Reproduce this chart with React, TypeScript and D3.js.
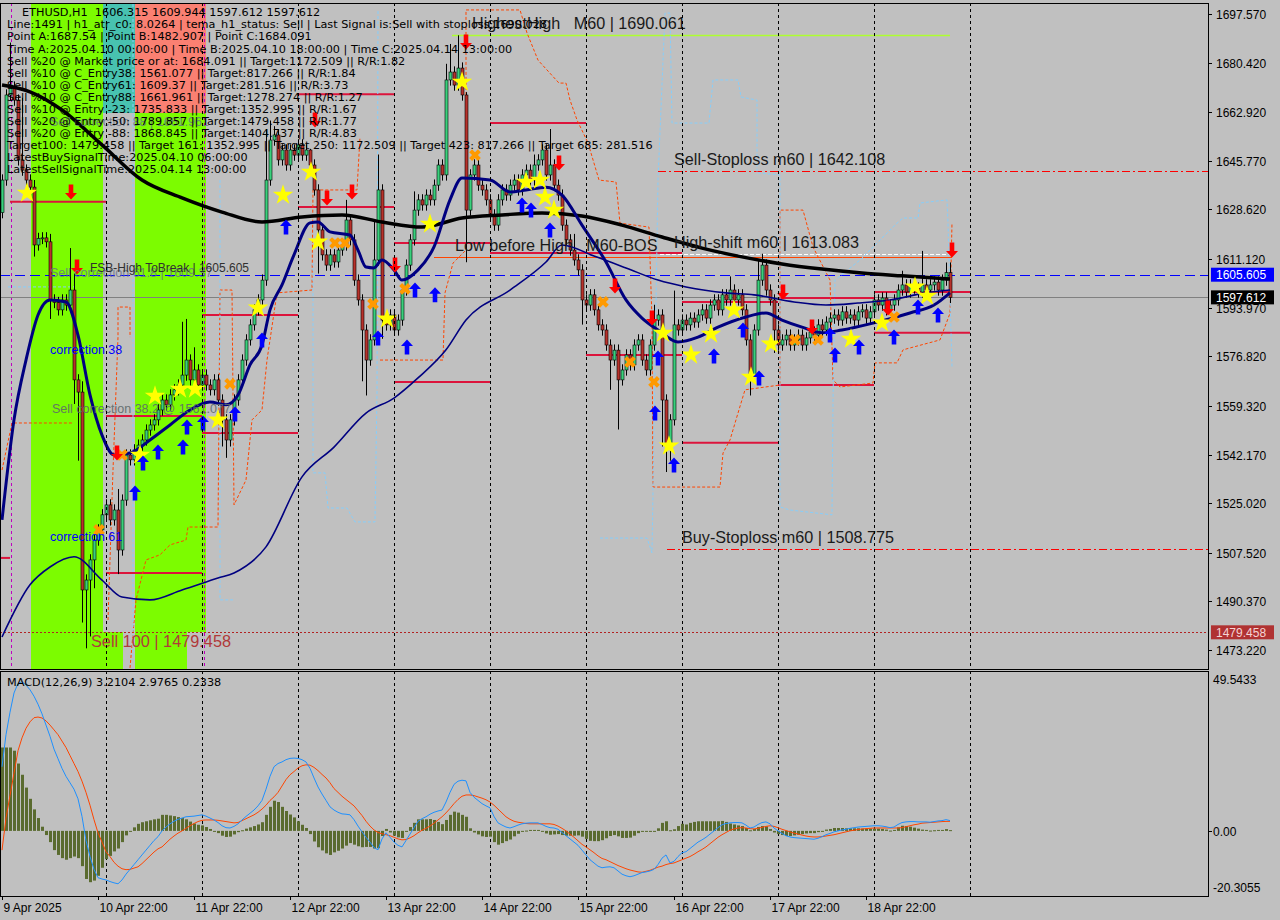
import * as d3 from 'd3';
import { useEffect, useRef } from 'react';

// ---------- values ----------
// bar 0 = 9 Apr 22:00, one bar per hour
const timeLabels = ['9 Apr 2025', '10 Apr 22:00', '11 Apr 22:00', '12 Apr 22:00', '13 Apr 22:00', '14 Apr 22:00', '15 Apr 22:00', '16 Apr 22:00', '17 Apr 22:00', '18 Apr 22:00'];
const timeLabelBars = [0, 24, 48, 72, 96, 120, 144, 168, 192, 216];
const dayBreakBars = [26, 50, 74, 98, 122, 146, 170, 194, 218, 242];

const priceTicks = [1697.57, 1680.42, 1662.92, 1645.77, 1628.62, 1611.12, 1593.97, 1576.82, 1559.32, 1542.17, 1525.02, 1507.52, 1490.37, 1473.22];
const macdTicks = [49.5433, 0, -20.3055];

const firstOpen = 1627.5;
const closes = [
  1639.0, 1669.0, 1671.8, 1667.2, 1646.1, 1642.5, 1639.0, 1636.5, 1616.1, 1618.4, 1618.6, 1617.2, 1596.7, 1595.8, 1593.2, 1596.7, 1594.9, 1600.2, 1568.5, 1564.2, 1494.4, 1497.9, 1505.0, 1512.0,
  1515.6, 1520.9, 1524.4, 1519.1, 1522.6, 1508.5, 1526.1, 1542.0, 1540.3, 1543.8, 1545.5, 1547.3, 1550.8, 1552.6, 1554.4, 1557.9, 1561.4, 1559.7, 1563.2, 1565.0, 1566.7, 1570.2, 1575.5, 1568.5,
  1572.0, 1566.7, 1570.2, 1566.7, 1565.0, 1568.5, 1561.4, 1554.4, 1547.3, 1554.4, 1561.4, 1568.5, 1575.5, 1582.6, 1587.9, 1593.2, 1596.7, 1603.7, 1639.0, 1653.1, 1654.9, 1646.1, 1649.6, 1644.3,
  1649.6, 1647.8, 1651.4, 1647.8, 1649.6, 1644.3, 1635.5, 1621.4, 1612.6, 1609.0, 1612.6, 1610.1, 1614.3, 1616.1, 1624.9, 1617.9, 1603.7, 1596.7, 1586.1, 1575.5, 1582.6, 1610.8, 1635.5, 1589.6,
  1587.9, 1591.4, 1586.1, 1589.6, 1600.2, 1609.0, 1617.9, 1628.4, 1632.0, 1630.2, 1633.7, 1632.0, 1637.2, 1644.3, 1640.8, 1674.3, 1677.1, 1672.5, 1678.5, 1669.0, 1628.4, 1640.8, 1644.3, 1637.2,
  1635.5, 1632.0, 1626.7, 1623.1, 1632.0, 1635.5, 1633.7, 1637.2, 1639.0, 1635.5, 1640.8, 1642.5, 1639.0, 1644.3, 1646.1, 1649.6, 1640.8, 1644.3, 1637.2, 1633.7, 1623.1, 1617.9, 1614.3, 1610.8,
  1607.3, 1596.7, 1594.9, 1598.5, 1593.2, 1587.9, 1586.1, 1580.8, 1575.5, 1579.0, 1568.5, 1572.0, 1577.3, 1573.8, 1580.8, 1582.6, 1575.5, 1572.0, 1580.8, 1589.6, 1591.4, 1561.4, 1545.5, 1554.4,
  1587.9, 1586.1, 1589.6, 1587.9, 1590.3, 1588.9, 1591.4, 1593.2, 1590.3, 1594.9, 1596.7, 1593.2, 1598.5, 1596.7, 1600.2, 1596.7, 1598.5, 1593.2, 1582.6, 1570.2, 1586.1, 1603.7, 1609.0, 1600.2,
  1596.7, 1586.1, 1580.8, 1582.6, 1584.3, 1580.8, 1582.6, 1584.3, 1580.8, 1583.3, 1585.4, 1584.3, 1587.9, 1586.1, 1588.9, 1590.3, 1591.4, 1589.6, 1592.5, 1590.3, 1591.4, 1589.6, 1592.5, 1593.2,
  1590.3, 1592.5, 1596.7, 1594.9, 1597.4, 1593.2, 1594.9, 1596.7, 1600.2, 1602.0, 1599.5, 1602.0, 1600.9, 1599.5, 1602.0, 1600.2, 1602.0, 1603.0, 1600.2, 1603.7, 1606.315, 1597.612,
];
// notable wick extremes [bar, price]
const highMarks = [[2, 1687.5], [5, 1668], [8, 1639], [12, 1620], [17, 1615], [18, 1606], [20, 1568], [29, 1530], [45, 1589], [46, 1590], [48, 1580], [66, 1657], [67, 1660], [68, 1658], [77, 1650], [86, 1632], [93, 1625], [94, 1648], [103, 1635], [111, 1680], [112, 1687], [114, 1690.06], [116, 1670], [133, 1648], [137, 1657], [143, 1620], [163, 1595], [168, 1600], [182, 1605], [189, 1611], [190, 1613], [225, 1607], [230, 1614], [236, 1609.9], [237, 1609.944]];
const lowMarks = [[8, 1612], [12, 1590], [18, 1560], [19, 1540], [20, 1482.9], [21, 1473.8], [22, 1478], [23, 1495], [29, 1500], [55, 1545], [56, 1541], [57, 1545], [79, 1606], [90, 1568], [91, 1563], [95, 1583], [116, 1610], [145, 1588], [152, 1565], [154, 1551], [165, 1545], [166, 1536], [167, 1540], [187, 1563], [193, 1578]];

// moving averages [bar, price]
const maSlow = [[0, 1672.5], [7, 1670.1], [15, 1663.7], [25, 1651.4], [35, 1639.0], [45, 1632.7], [55, 1627.7], [65, 1624.2], [75, 1626.0], [85, 1626.7], [95, 1624.2], [105, 1622.4], [115, 1625.6], [125, 1626.7], [135, 1627.4], [145, 1626.3], [155, 1623.1], [165, 1618.9], [175, 1615.0], [185, 1611.9], [195, 1609.4], [205, 1607.6], [215, 1606.2], [225, 1605.2], [237, 1604.1]];
const maFast = [[0, 1519.1], [3, 1554.4], [6, 1575.5], [9, 1591.4], [12, 1596.7], [16, 1596.0], [19, 1584.3], [22, 1563.2], [25, 1549.0], [28, 1542.0], [32, 1542.7], [37, 1547.3], [42, 1552.6], [47, 1557.9], [52, 1560.7], [56, 1559.7], [59, 1563.2], [62, 1573.8], [65, 1580.8], [67, 1593.2], [70, 1602.0], [73, 1612.6], [77, 1623.9], [79, 1624.2], [82, 1620.7], [87, 1619.6], [89, 1614.3], [91, 1608.3], [93, 1608.0], [95, 1610.8], [98, 1607.3], [100, 1603.7], [104, 1607.3], [108, 1615.4], [112, 1632.0], [115, 1639.7], [122, 1639.0], [127, 1634.8], [131, 1635.5], [136, 1636.5], [140, 1633.7], [145, 1623.1], [151, 1610.1], [156, 1596.7], [160, 1590.3], [164, 1586.1], [169, 1581.9], [174, 1583.6], [179, 1587.1], [186, 1590.7], [191, 1592.1], [195, 1589.6], [200, 1587.1], [205, 1585.1], [210, 1586.1], [218, 1588.6], [227, 1592.1], [233, 1594.9], [237, 1599.2]];
const maMid = [[0, 1477.8], [7, 1496.2], [12, 1502.5], [18, 1506.1], [25, 1497.9], [30, 1491.9], [37, 1490.9], [45, 1494.4], [54, 1498.6], [58, 1500.4], [66, 1509.6], [75, 1534.3], [83, 1544.8], [91, 1556.8], [98, 1562.1], [104, 1569.2], [111, 1579.1], [116, 1589.6], [127, 1600.2], [136, 1610.1], [140, 1616.1], [148, 1612.2], [156, 1608.0], [164, 1603.7], [171, 1601.3], [181, 1599.2], [188, 1598.5], [198, 1596.0], [206, 1594.9], [214, 1595.6], [222, 1596.7], [231, 1599.2], [237, 1600.2]];

// stepped dashed channels [bar, price]
const orangeSteps = [
  [[0, 1536.7], [2.5, 1553.3], [17.5, 1553.3]],
  [[26.5, 1483.8], [27.75, 1536.7], [29, 1583.6], [29, 1594.2], [32, 1594.2], [32, 1583.6]],
  [[32, 1466.9], [33.5, 1490.9], [36, 1505.0], [39.5, 1506.8], [42, 1510.3], [46, 1512.0], [46.5, 1516.6], [54, 1516.6], [54.5, 1600.2], [57.5, 1600.2], [58, 1524.4], [61, 1533.2], [62.5, 1554.4], [65, 1557.9], [66.25, 1575.5], [68.75, 1599.2], [77.5, 1600.2], [77.75, 1635.5], [88.75, 1635.5], [89.5, 1654.2]],
  [[94.5, 1575.5], [110.25, 1575.5], [110.75, 1599.2], [112.75, 1609.7], [116, 1614.3]],
  [[116, 1646.1], [116, 1699], [129.5, 1699], [131.25, 1690.9], [134, 1681.3], [139.25, 1673.2], [141, 1673.2], [142, 1667.2], [143.75, 1660.2], [146.5, 1652.1], [149.25, 1639.0], [153.5, 1638.3], [154.5, 1623.8], [161.75, 1622.4], [162.5, 1589.6], [162.75, 1530.7], [179.5, 1530.7], [180.25, 1542.7], [182, 1547.3], [184, 1556.8], [185.75, 1565.0], [194.5, 1566.7], [194.5, 1628.4], [200.25, 1628.4], [202.75, 1615.4], [207, 1603.7], [207.75, 1568.5], [209.5, 1566.0], [217.75, 1567.4], [218.25, 1574.5], [223.75, 1574.5], [225.25, 1579.1], [234.5, 1582.6], [237, 1592.0], [237.5, 1623.8]],
];
const skySteps = [
  [[1.5, 1601.3], [18.25, 1601.3]],
  [[32.75, 1701.1], [32.75, 1469.7]],
  [[54.5, 1639.0], [54.5, 1490.9], [57.75, 1490.9]],
  [[77.75, 1609.7], [77.75, 1535.7], [80.75, 1535.7], [81.5, 1523.3], [86.25, 1523.3], [88.25, 1518.4], [93.25, 1518.4], [93.75, 1563.9], [94, 1699]],
  [[149.5, 1512.7], [161.25, 1512.7], [162.5, 1507.5], [164, 1639.0], [165.75, 1697.9], [167, 1697.9], [167.5, 1659.1], [176.75, 1659.1], [177.75, 1674.3], [184, 1674.3], [184.75, 1668.3], [188.75, 1667.2], [188.75, 1641.5], [194.5, 1640.8], [194.5, 1523.7], [197, 1522.6], [207.5, 1520.9], [207.75, 1561.4], [208.25, 1603.7], [214.5, 1610.8], [223.75, 1623.8], [225.25, 1625.6], [229, 1625.6], [229.5, 1630.9], [236.25, 1632.0], [236.5, 1623.8], [237.5, 1573.1]],
];

// daily target lines [fromBar, toBar, price]
const dayLevels = [[2, 26, 1631.3], [26, 50, 1555.8], [26, 50, 1500.4], [50, 74, 1591.4], [50, 74, 1549.8], [74, 98, 1669.3], [74, 98, 1629.5], [98, 122, 1616.8], [98, 122, 1567.8], [122, 146, 1659.1], [122, 170, 1613.3], [146, 170, 1577.3], [170, 194, 1546.3], [170, 194, 1596.0], [194, 218, 1597.4], [194, 218, 1566.7], [218, 242, 1599.5], [218, 242, 1585.1], [-1, 2, 1505.7]];

// signal markers [bar, price]
const stars = [[6.25, 1634.4], [34.5, 1542.0], [38.25, 1562.8], [44.5, 1565.3], [48.25, 1565.3], [54, 1554.4], [64, 1593.9], [70.25, 1633.7], [77.25, 1641.8], [79, 1617.2], [96.25, 1590.0], [107, 1623.5], [115, 1673.6], [131, 1638.3], [134.5, 1639.0], [135.75, 1633.0], [138, 1628.4], [165.25, 1585.0], [166.75, 1545.2], [172.25, 1577.3], [177.25, 1584.7], [183, 1593.2], [187.25, 1569.5], [192.25, 1581.2], [212.25, 1582.9], [220, 1588.6], [228.25, 1601.3], [231.25, 1598.1]];
const crosses = [[24.25, 1515.6], [30, 1542.0], [57, 1567.1], [83.25, 1616.8], [85.75, 1616.8], [92.75, 1595.3], [100.75, 1600.6], [118.25, 1647.8], [150.25, 1596.0], [157, 1574.8], [163, 1567.8], [198.25, 1582.6], [204, 1582.6], [223, 1590.7]];
const buyArrows = [[33.25, 1528.6], [35.25, 1539.2], [39, 1543.1], [45.25, 1544.8], [46.25, 1551.9], [50.25, 1553.3], [58.25, 1556.5], [65, 1582.6], [71, 1622.4], [94, 1583.3], [101.25, 1580.1], [103.25, 1600.2], [108.25, 1598.5], [130, 1630.2], [132.25, 1628.4], [137, 1621.4], [163.25, 1556.8], [164, 1576.2], [168, 1538.5], [178, 1576.9], [185.25, 1586.1], [189.25, 1569.2], [207, 1584.3], [208.25, 1577.3], [214.25, 1580.1], [223, 1583.6], [229, 1594.2], [234, 1591.4]];
const sellArrows = [[17.25, 1634.8], [18.75, 1608.3], [28.75, 1542.7], [78.25, 1660.2], [81.25, 1632.7], [87.5, 1634.8], [98.25, 1609.0], [116, 1687.7], [139.25, 1645.0], [153.25, 1601.6], [162.5, 1590.3], [195.25, 1599.5], [202.5, 1587.2], [221.5, 1593.9], [237.5, 1614.3]];

// MACD(12,26,9) per bar
const macdMain = [
  20, 30, 37, 43, 46, 46.5, 45.5, 44, 42, 39.5, 36.5, 33, 29.5, 25.5, 22.5, 19.5, 17, 15, 13, 10, 4.5, -3, -8, -12,
  -14.6, -15, -15.3, -15.8, -16.2, -16.5, -15.3, -13.5, -12, -10.5, -9, -7.5, -6, -4.5, -3, -1.8, 0, 1.2, 2.2, 3, 3.6, 4, 4.4, 4.5,
  4.6, 4.8, 5, 4.6, 4, 3.4, 2.6, 1.6, 1.0, 0.9, 1.4, 2.2, 3.4, 4.5, 5.5, 6.5, 7.8, 9.5, 13, 17, 20, 21, 21.5, 22.2,
  22.6, 22.7, 22.6, 22.2, 21.5, 19.5, 16.5, 13.7, 11.5, 9.5, 7.5, 6.5, 5.8, 5.3, 5.2, 5, 3.5, 1.5, -0.3, -2, -3.5, -5.2, -5.9, -2.5,
  -0.6, -2, -3.5, -4.5, -5, -3, -1, 1, 3, 3.8, 4.4, 5.2, 5.8, 6.2, 6.5, 9, 12, 14.5, 15.5, 15.8, 15.6, 12, 10.5, 9.5,
  8.5, 7.8, 7.2, 4.5, 2.5, 1.8, 1.2, 0.9, 1.3, 1.8, 2.2, 2.4, 2.5, 2.5, 2.5, 2.0, 1.4, 1.0, 0.9, 0.5, -0.5, -1.5, -2.5, -3.5,
  -4.5, -6, -7.5, -9, -10, -11, -11.5, -11.3, -11.2, -11.5, -12.5, -13.5, -14, -14.3, -14, -13.5, -13, -12.8, -12.5, -12, -10.5, -8.5, -7.5, -10,
  -9.5, -8, -6.8, -6.5, -5.5, -4.5, -3.5, -2.8, -2, -1, 0, 1, 1.9, 2.3, 2.5, 2.6, 2.6, 2.5, 1.8, 0.9, 1.2, 2, 2.6, 2.8,
  2.2, 0.9, 0, -0.8, -1.5, -1.9, -2.1, -2.2, -2.3, -2.4, -2.5, -2.6, -2.3, -1.8, -1.2, -0.8, -0.3, 0, 0.3, 0.5, 0.8, 1.0, 1.2, 1.3,
  1.4, 1.5, 1.6, 1.6, 1.5, 1.3, 1.0, 1.2, 2.0, 2.6, 2.8, 2.9, 2.9, 2.8, 2.8, 2.8, 2.7, 2.9, 3.1, 3.2, 3.5, 3.2104,
];
const macdSignal = [
  -6, 4, 11, 18, 25, 29, 32, 34, 35.3, 35.5, 35.2, 34.3, 33, 31.5, 30, 28, 26, 23.5, 21, 18.5, 15.5, 12, 8, 3.5,
  -0.6, -3.5, -6.5, -8, -9.8, -11, -11.8, -12.1, -12, -11.6, -11.2, -10.2, -9, -7.8, -6.6, -5.6, -5, -3.8, -2.6, -1.6, -0.7, 0, 0.8, 1.6,
  2.3, 2.9, 3.3, 3.4, 3.4, 3.4, 3.3, 3.1, 2.9, 2.7, 2.5, 2.6, 3.2, 3.8, 4.4, 5, 5.8, 6.8, 8, 9.5, 10.6, 12, 14, 16,
  17.5, 18.5, 19.6, 20.3, 20.6, 20.5, 19.8, 18.8, 17.6, 16.5, 15, 13.2, 12, 10.8, 9.8, 8.8, 7.8, 6.3, 4.8, 3, 1.5, 0.3, -0.5, -0.9,
  -1.2, -1.5, -2, -2.5, -2.8, -2.7, -2.2, -1.5, -0.6, 0.2, 0.8, 1.5, 2.4, 3.4, 4.4, 5.6, 7, 8.5, 9.8, 10.8, 11.2, 11.2, 11, 10.6,
  10.2, 9.7, 9, 8, 6.8, 5.6, 4.4, 3.6, 3, 2.7, 2.5, 2.3, 2.2, 2.2, 2.2, 2.2, 2.2, 2.2, 2, 1.5, 0.8, 0, -1, -2,
  -3.1, -4.2, -5, -5.9, -6.8, -7.8, -8.6, -9, -9.6, -10.2, -10.8, -11.3, -11.8, -12.2, -12.5, -12.8, -12.9, -12.6, -12.3, -11.8, -11.3, -11, -10.5, -10.2,
  -10, -9.5, -9, -8.5, -8, -7.3, -6.5, -5.8, -5, -4, -3, -2, -1.2, -0.5, 0.2, 0.6, 0.9, 1.0, 0.9, 0.7, 0.6, 0.8, 1.1, 1.4,
  1.6, 1.4, 1.0, 0.5, 0.1, -0.3, -0.7, -1.0, -1.3, -1.6, -1.8, -1.9, -1.9, -1.8, -1.6, -1.4, -1.2, -0.9, -0.6, -0.3, 0, 0.2, 0.4, 0.6,
  0.7, 0.8, 0.9, 0.9, 0.9, 0.9, 0.9, 0.9, 0.9, 1.0, 1.3, 1.6, 1.9, 2.1, 2.4, 2.5, 2.6, 2.7, 2.8, 2.9, 2.95, 2.9765,
];

const infoLines = [
  'Line:1491 | h1_atr_c0: 8.0264 | tema_h1_status: Sell | Last Signal is:Sell with stoploss:1690.028',
  'Point A:1687.54 | Point B:1482.907 | Point C:1684.091',
  'Time A:2025.04.10 00:00:00 | Time B:2025.04.10 18:00:00 | Time C:2025.04.14 13:00:00',
  'Sell %20 @ Market price or at: 1684.091 || Target:1172.509 || R/R:1.82',
  'Sell %10 @ C_Entry38: 1561.077 || Target:817.266 || R/R:1.84',
  'Sell %10 @ C_Entry61: 1609.37 || Target:281.516 || R/R:3.73',
  'Sell %10 @ C_Entry88: 1661.961 || Target:1278.274 || R/R:1.27',
  'Sell %10 @ Entry -23: 1735.833 || Target:1352.995 || R/R:1.67',
  'Sell %20 @ Entry -50: 1789.857 || Target:1479.458 || R/R:1.77',
  'Sell %20 @ Entry -88: 1868.845 || Target:1404.737 || R/R:4.83',
  'Target100: 1479.458 || Target 161: 1352.995 || Target 250: 1172.509 || Target 423: 817.266 || Target 685: 281.516',
  'LatestBuySignalTime:2025.04.10 06:00:00',
  'LatestSellSignalTime:2025.04.14 13:00:00',
];

const fsbLevel = 1605.605;
const bidLevel = 1597.612;
const sellStop = 1642.108;
const buyStop = 1508.775;
const highestHigh = 1690.061;
const highShift = 1613.083;
const sell100 = 1479.458;
const bosLevel = 1612.0;

const FONT = '"Liberation Sans", Arial, sans-serif';
const INFO_FONT = '"DejaVu Sans", Verdana, sans-serif';

const App = () => {
  const ref = useRef<SVGSVGElement>(null);

  useEffect(() => {
    drawChart();
  }, []);

  const drawChart = () => {
    const svg = d3.select(ref.current);
    svg.selectAll('*').remove();

    const plotRight = 1208;
    const main = { top: 3, bottom: 669 };
    const sub = { top: 671, bottom: 896 };

    const x = d3.scaleLinear().domain([0, 300]).range([2, 1202]);
    const y = d3.scaleLinear().domain([1473.22, 1697.57]).range([650, 14]);
    const ym = d3.scaleLinear().domain([-20.3055, 49.5433]).range([896, 672]);

    svg.append('rect').attr('width', 1280).attr('height', 920).attr('fill', '#c0c0c0');

    const defs = svg.append('defs');
    defs.append('clipPath').attr('id', 'clipMain').append('rect')
      .attr('x', 1).attr('y', main.top + 1).attr('width', plotRight - 1).attr('height', main.bottom - main.top - 1);
    defs.append('clipPath').attr('id', 'clipSub').append('rect')
      .attr('x', 1).attr('y', sub.top + 1).attr('width', plotRight - 1).attr('height', sub.bottom - sub.top - 1);

    const g = svg.append('g').attr('clip-path', 'url(#clipMain)');

    // coloured zones
    const zones = [
      [x(7.25), main.top, x(25.25), main.bottom, '#7cfc00'],
      [x(25.25), 632, x(30.25), main.bottom, '#7cfc00'],
      [x(33.25), 113, x(51), main.bottom, '#7cfc00'],
      [x(25.25), main.top, x(33.25), 113, '#48c2b0'],
      [x(33.25), main.top, x(51), 113, '#fa8072'],
    ];
    g.selectAll('rect.zone').data(zones).enter().append('rect')
      .attr('x', d => d[0]).attr('y', d => d[1])
      .attr('width', d => d[2] - d[0]).attr('height', d => d[3] - d[1])
      .attr('fill', d => d[4]);
    // bottom gap of second band
    g.append('rect').attr('x', x(46.25)).attr('y', 632).attr('width', x(51) - x(46.25)).attr('height', main.bottom - 632).attr('fill', '#c0c0c0');

    // day separators
    const sepMain = svg.append('g');
    dayBreakBars.forEach(b => {
      const xx = Math.round(x(b)) + 0.5;
      sepMain.append('line').attr('x1', xx).attr('x2', xx).attr('y1', main.top).attr('y2', main.bottom)
        .attr('stroke', '#000').attr('stroke-dasharray', '3,3');
      sepMain.append('line').attr('x1', xx).attr('x2', xx).attr('y1', sub.top).attr('y2', sub.bottom)
        .attr('stroke', '#000').attr('stroke-dasharray', '3,3');
    });
    [2.25, 50.4].forEach(b => {
      const xx = Math.round(x(b)) + 0.5;
      g.append('line').attr('x1', xx).attr('x2', xx).attr('y1', main.top).attr('y2', main.bottom)
        .attr('stroke', '#c000c0').attr('stroke-dasharray', '3,3');
    });

    // horizontal levels
    const hline = (p, x1, x2, color, dash, w = 1) => g.append('line')
      .attr('x1', x1).attr('x2', x2).attr('y1', Math.round(y(p)) + 0.5).attr('y2', Math.round(y(p)) + 0.5)
      .attr('stroke', color).attr('stroke-width', w).attr('stroke-dasharray', dash);

    hline(sell100, 0, plotRight, '#b22222', '2,2');
    hline(bidLevel, 0, plotRight, '#808080', null);
    hline(fsbLevel, 0, plotRight, '#0000ff', '10,5');
    hline(sellStop, x(164), plotRight, '#ff0000', '8,3,2,3');
    hline(buyStop, x(166.25), plotRight, '#ff0000', '8,3,2,3');
    hline(highestHigh, x(112.5), x(237), '#adff2f', null, 1.5);
    hline(highShift, x(164.5), x(237), '#ffffff', '4,2');
    hline(bosLevel, x(108), x(237.5), '#ff4500', null);

    g.selectAll('line.day').data(dayLevels).enter().append('line')
      .attr('x1', d => x(d[0])).attr('x2', d => x(d[1]))
      .attr('y1', d => y(d[2])).attr('y2', d => y(d[2]))
      .attr('stroke', '#dc143c').attr('stroke-width', 2);

    // stepped dashed channels
    const stepLine = d3.line().x(d => x(d[0])).y(d => y(d[1]));
    g.selectAll('path.orange').data(orangeSteps).enter().append('path')
      .attr('d', d => stepLine(d)).attr('fill', 'none')
      .attr('stroke', '#ff4500').attr('stroke-width', 1).attr('stroke-dasharray', '3,2');
    g.selectAll('path.sky').data(skySteps).enter().append('path')
      .attr('d', d => stepLine(d)).attr('fill', 'none')
      .attr('stroke', '#87cefa').attr('stroke-width', 1).attr('stroke-dasharray', '3,2');

    // candles
    const hiMap = new Map(highMarks.map(d => [d[0], d[1]]));
    const loMap = new Map(lowMarks.map(d => [d[0], d[1]]));
    const candles = closes.map((c, i) => {
      const o = i === 0 ? firstOpen : closes[i - 1];
      const h = hiMap.get(i) ?? Math.max(o, c) + 2;
      const l = loMap.get(i) ?? Math.min(o, c) - 2;
      return { i, o, h, l, c };
    });
    const cg = g.append('g');
    cg.selectAll('line').data(candles).enter().append('line')
      .attr('x1', d => Math.round(x(d.i)) + 0.5).attr('x2', d => Math.round(x(d.i)) + 0.5)
      .attr('y1', d => y(d.h)).attr('y2', d => y(d.l))
      .attr('stroke', '#000');
    cg.selectAll('rect').data(candles).enter().append('rect')
      .attr('x', d => Math.round(x(d.i)) - 1)
      .attr('y', d => y(Math.max(d.o, d.c)))
      .attr('width', 3)
      .attr('height', d => Math.max(1, Math.abs(y(d.o) - y(d.c))))
      .attr('fill', d => d.c >= d.o ? '#3ad07c' : '#b8322c')
      .attr('stroke', '#000').attr('stroke-width', 0.6);

    // moving averages
    const smooth = d3.line().x(d => x(d[0])).y(d => y(d[1])).curve(d3.curveMonotoneX);
    g.append('path').attr('d', smooth(maMid)).attr('fill', 'none').attr('stroke', '#000080').attr('stroke-width', 1.6);
    g.append('path').attr('d', smooth(maSlow)).attr('fill', 'none').attr('stroke', '#000').attr('stroke-width', 3.5);
    g.append('path').attr('d', smooth(maFast)).attr('fill', 'none').attr('stroke', '#000080').attr('stroke-width', 3);

    // markers
    const starPath = d3.symbol().type(d3.symbolStar).size(130)();
    g.selectAll('path.star').data(stars).enter().append('path')
      .attr('d', starPath).attr('transform', d => `translate(${x(d[0])},${y(d[1])})`)
      .attr('fill', '#ffff00');
    const crossPath = d3.symbol().type(d3.symbolCross).size(85)();
    g.selectAll('path.cross').data(crosses).enter().append('path')
      .attr('d', crossPath).attr('transform', d => `translate(${x(d[0])},${y(d[1])}) rotate(45)`)
      .attr('fill', '#ff9a00');
    const upArrow = 'M0,-7.5 L6,-1 L2.3,-1 L2.3,7.5 L-2.3,7.5 L-2.3,-1 L-6,-1 Z';
    g.selectAll('path.buy').data(buyArrows).enter().append('path')
      .attr('d', upArrow).attr('transform', d => `translate(${x(d[0])},${y(d[1])})`)
      .attr('fill', '#0000ff');
    g.selectAll('path.sell').data(sellArrows).enter().append('path')
      .attr('d', upArrow).attr('transform', d => `translate(${x(d[0])},${y(d[1])}) scale(1,-1)`)
      .attr('fill', '#ff0000');

    // chart texts
    const label = (txt, xx, yy, size, color, opacity = 1) => g.append('text')
      .attr('x', xx).attr('y', yy).attr('font-family', FONT).attr('font-size', size)
      .attr('fill', color).attr('opacity', opacity).style('white-space', 'pre').text(txt);

    label('Sell correction 88 | 1661.961', 50, 126, 12.5, '#66728a', 0.8);
    label('Sell correction 61.8 | 1609.37', 50, 277, 12.5, '#66728a', 0.8);
    label('Sell correction 38.2 @ 1561.077', 52, 413, 12.5, '#5f6b6b', 0.9);
    label('FSB-High ToBreak | 1605.605', 90, 272, 12, '#303030');
    label('correction 38', 50, 354, 12.5, '#0000ff');
    label('correction 61', 50, 541, 12.5, '#0000ff');
    label('Sell 100 | 1479.458', 91, y(sell100) + 15, 16.3, '#b03a3a');
    label('HighestHigh   M60 | 1690.061', 472, y(highestHigh) - 6, 16.2, '#1a1a1a');
    label('Sell-Stoploss m60 | 1642.108', 674, y(sellStop) - 6, 16.2, '#1a1a1a');
    label('High-shift m60 | 1613.083', 674, y(highShift) - 6, 16.2, '#1a1a1a');
    label('Low before High   M60-BOS', 455, 251, 16.2, '#1a1a1a');
    label('Buy-Stoploss m60 | 1508.775', 682, y(buyStop) - 6, 16.2, '#1a1a1a');

    // info block
    const info = svg.append('g').attr('font-family', INFO_FONT).attr('font-size', 11.25).attr('fill', '#000');
    info.append('text').attr('x', 22).attr('y', 16).style('white-space', 'pre').text('ETHUSD,H1  1606.315 1609.944 1597.612 1597.612');
    info.selectAll('text.row').data(infoLines).enter().append('text')
      .attr('x', 7).attr('y', (d, k) => 28.4 + k * 12.07).text(d => d);

    // ---- MACD panel ----
    const m = svg.append('g').attr('clip-path', 'url(#clipSub)');
    const hist = macdMain.map((v, i) => ({ i, v: v - macdSignal[i] }));
    m.selectAll('rect').data(hist).enter().append('rect')
      .attr('x', d => Math.round(x(d.i)) - 1)
      .attr('y', d => ym(Math.max(0, d.v)))
      .attr('width', 3)
      .attr('height', d => Math.max(1, Math.abs(ym(d.v) - ym(0))))
      .attr('fill', '#5a6b2f');
    const macdLine = d3.line().x((d, i) => x(i)).y(d => ym(d));
    m.append('path').attr('d', macdLine(macdSignal)).attr('fill', 'none').attr('stroke', '#ff4500').attr('stroke-width', 1);
    m.append('path').attr('d', macdLine(macdMain)).attr('fill', 'none').attr('stroke', '#1e90ff').attr('stroke-width', 1);
    svg.append('text').attr('x', 7).attr('y', 686).attr('font-family', INFO_FONT).attr('font-size', 11.25)
      .text('MACD(12,26,9) 3.2104 2.9765 0.2338');

    // frames
    svg.append('rect').attr('x', 0.5).attr('y', main.top + 0.5).attr('width', plotRight).attr('height', main.bottom - main.top)
      .attr('fill', 'none').attr('stroke', '#000');
    svg.append('rect').attr('x', 0.5).attr('y', sub.top + 0.5).attr('width', plotRight).attr('height', sub.bottom - sub.top)
      .attr('fill', 'none').attr('stroke', '#000');

    // price axis
    const ax = svg.append('g').attr('font-family', FONT).attr('font-size', 12);
    priceTicks.forEach(p => {
      const yy = Math.round(y(p)) + 0.5;
      ax.append('line').attr('x1', plotRight).attr('x2', plotRight + 4).attr('y1', yy).attr('y2', yy).attr('stroke', '#000');
      ax.append('text').attr('x', plotRight + 8).attr('y', yy + 4).attr('fill', '#000').text(p.toFixed(3));
    });
    macdTicks.forEach(v => {
      const yy = v === 0 ? Math.round(ym(v)) + 0.5 : ym(v);
      const ty = v === 49.5433 ? 684 : v === 0 ? yy + 4 : 892;
      if (v === 0) ax.append('line').attr('x1', plotRight).attr('x2', plotRight + 4).attr('y1', yy).attr('y2', yy).attr('stroke', '#000');
      ax.append('text').attr('x', plotRight + 5).attr('y', ty).attr('fill', '#000').text(v === 0 ? '0.00' : v.toFixed(4));
    });

    // current price tags
    const tag = (p, bg, fg) => {
      const yy = y(p);
      ax.append('rect').attr('x', plotRight + 3).attr('y', yy - 7).attr('width', 63).attr('height', 14).attr('fill', bg);
      ax.append('text').attr('x', plotRight + 8).attr('y', yy + 4.5).attr('fill', fg).text(p.toFixed(3));
    };
    tag(fsbLevel, '#0000ff', '#ffffff');
    tag(bidLevel, '#000000', '#ffffff');
    tag(sell100, '#b03232', '#f4d4d4');

    // time axis
    timeLabelBars.forEach((b, k) => {
      const xx = Math.round(x(b)) + 0.5;
      ax.append('line').attr('x1', xx).attr('x2', xx).attr('y1', sub.bottom).attr('y2', sub.bottom + 4).attr('stroke', '#000');
      ax.append('text').attr('x', xx + 1).attr('y', 912).attr('fill', '#000').text(timeLabels[k]);
    });
  };

  return (
    <div style={{ position: 'absolute', left: 0, top: 0 }}>
      <svg ref={ref} width={1280} height={920} style={{ display: 'block' }} />
    </div>
  );
};

export default App;
